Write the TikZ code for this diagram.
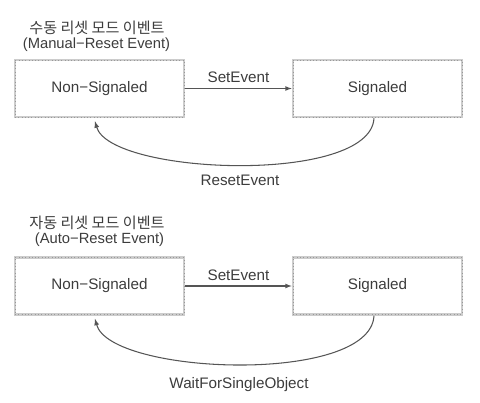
\documentclass[tikz,border=0pt]{standalone}
\usepackage{fontspec}
\setmainfont{Liberation Sans}
\newfontfamily\kr{Noto Sans CJK KR}
\usetikzlibrary{arrows}
\definecolor{ink}{HTML}{3C3C3C}
\definecolor{wire}{HTML}{555555}

\begin{document}
\begin{tikzpicture}[x=0.03cm,y=-0.03cm]
\tikzstyle{every node}=[text=ink,font=\fontsize{13}{15}\selectfont];
\tikzstyle{state}=[draw=gray!40,line width=2.2pt,minimum width=5.07cm,minimum height=1.71cm,postaction={draw=gray!80,dotted,line width=0.8pt}];
\tikzstyle{title}=[inner sep=0pt,font=\kr\fontsize{12.9}{14}\selectfont];
\tikzstyle{subtitle}=[inner sep=0pt,font=\fontsize{12.6}{14}\selectfont];
\tikzstyle{edge}=[->,>=latex,draw=wire,line width=0.9pt];
\useasboundingbox (0,0) rectangle (480,403);
% manual reset
\node[title] (t1) at (97,28) {수동 리셋 모드 이벤트};
\node[subtitle] (u1) at (96.5,44.5) {(Manual−Reset Event)};
\node[state] (n1) at (99.5,88.5) {Non−Signaled};
\node[state] (s1) at (377.5,88.5) {Signaled};
\draw[edge] (n1) -- node[above=1pt] (e1) {SetEvent} (s1);
\draw[edge] ([shift={(-3.5,0)}]s1.south) .. controls (370,185) and (110,175) .. ([shift={(-4.5,3)}]n1.south);
\node (r1) at (240,180) {ResetEvent};
% auto reset
\node[title] (t2) at (97,223) {자동 리셋 모드 이벤트};
\node[subtitle] (u2) at (99.5,240) {(Auto−Reset Event)};
\node[state] (n2) at (99.5,286) {Non−Signaled};
\node[state] (s2) at (377.5,286) {Signaled};
\draw[edge] (n2) -- node[above=1pt] (e2) {SetEvent} (s2);
\draw[edge] ([shift={(-3.5,0)}]s2.south) .. controls (370,385) and (110,375) .. ([shift={(-4.5,3)}]n2.south);
\node (w2) at (239,385) {WaitForSingleObject};
\end{tikzpicture}
\end{document}
